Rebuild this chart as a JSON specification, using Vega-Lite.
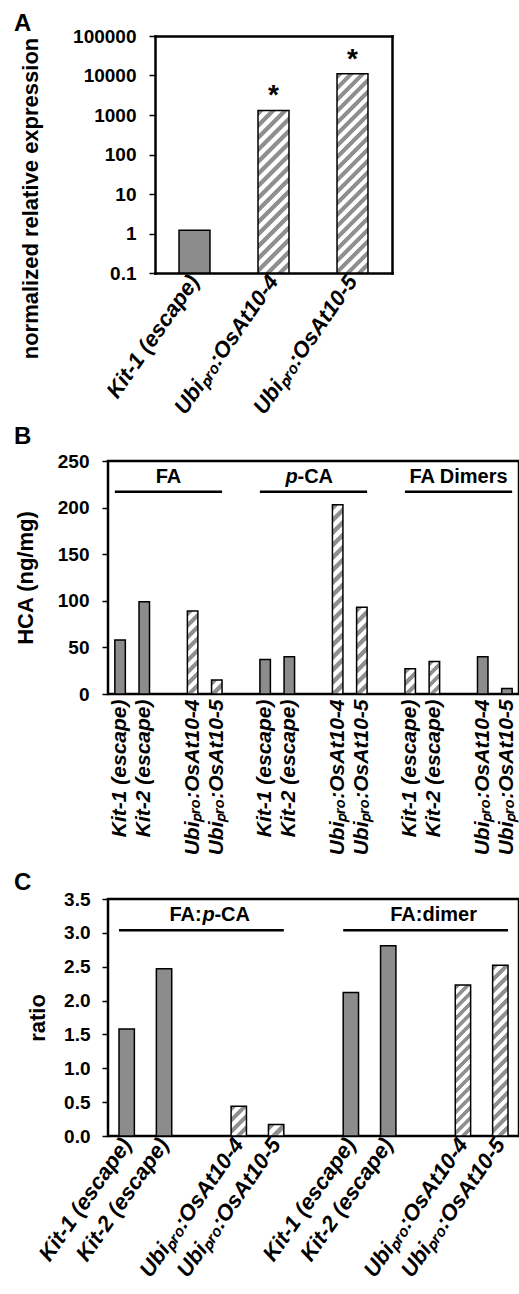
{
  "$schema": "https://vega.github.io/schema/vega-lite/v6.json",
  "background": "white",
  "padding": {"left": 12, "top": 12, "right": 0, "bottom": 0},
  "columns": 1,
  "align": "none",
  "spacing": 5,
  "config": {
    "font": "Liberation Sans",
    "view": {"stroke": "#000", "strokeWidth": 2.5},
    "axis": {"grid": false, "domain": false, "labelFont": "Liberation Sans", "labelFontWeight": "bold", "labelColor": "#000", "labelFontSize": 19, "labelOverlap": false, "labelLimit": 400, "titleFont": "Liberation Sans", "titleFontWeight": "bold", "titleFontSize": 22, "titleColor": "#000", "tickColor": "#000", "tickWidth": 1.5, "tickSize": 6},
    "title": {"font": "Liberation Sans", "fontSize": 24, "fontWeight": "bold", "color": "#000", "anchor": "start", "frame": "group"}
  },
  "concat": [
    {
      "title": {"text": "A", "offset": -9, "dx": -94},
      "width": 284,
      "height": 237,
      "view": {"stroke": null},
      "data": {"values": [
        {"line": "Kit-1 (escape)", "expression": 1.2, "sig": ""},
        {"line": "Ubiₚᵣₒ:OsAt10-4", "expression": 1300, "sig": "*"},
        {"line": "Ubiₚᵣₒ:OsAt10-5", "expression": 11000, "sig": "*"}
      ]},
      "resolve": {"axis": {"x": "independent", "y": "independent"}},
      "layer": [
        {
          "mark": {"type": "bar", "stroke": "#000", "strokeWidth": 1.5},
          "encoding": {
            "x": {"field": "line", "type": "nominal", "sort": null,
                  "scale": {"range": [47, 284], "paddingInner": 0.608, "paddingOuter": 0.304},
                  "axis": {"title": null, "labelAngle": -55, "labelAlign": "right", "labelBaseline": "middle", "labelFontSize": 22, "labelFontStyle": "italic", "ticks": false, "tickSize": 0, "labelPadding": 4, "domain": true, "domainColor": "#000", "domainWidth": 2.5, "domainCap": "square"}},
            "y": {"field": "expression", "type": "quantitative",
                  "scale": {"type": "log", "domain": [0.1, 100000], "nice": false},
                  "axis": {"title": "normalized relative expression", "values": [0.1, 1, 10, 100, 1000, 10000, 100000], "labelExpr": "'' + datum.value", "labelPadding": 13, "titleX": -113, "titleY": 162, "offset": -47, "domain": true, "domainColor": "#000", "domainWidth": 2.5, "domainCap": "square"}},
            "y2": {"datum": 0.1},
            "fill": {"condition": [
              {"test": "datum.line === 'Ubiₚᵣₒ:OsAt10-4'", "value": {"gradient": "linear", "x1": 0, "y1": 0, "x2": 0.219, "y2": 1.149, "stops": [{"offset":0.0031,"color":"#8f8f8f"},{"offset":0.0281,"color":"#8f8f8f"},{"offset":0.0344,"color":"#fff"},{"offset":0.0594,"color":"#fff"},{"offset":0.0656,"color":"#8f8f8f"},{"offset":0.0906,"color":"#8f8f8f"},{"offset":0.0969,"color":"#fff"},{"offset":0.1219,"color":"#fff"},{"offset":0.1281,"color":"#8f8f8f"},{"offset":0.1531,"color":"#8f8f8f"},{"offset":0.1594,"color":"#fff"},{"offset":0.1844,"color":"#fff"},{"offset":0.1906,"color":"#8f8f8f"},{"offset":0.2156,"color":"#8f8f8f"},{"offset":0.2219,"color":"#fff"},{"offset":0.2469,"color":"#fff"},{"offset":0.2531,"color":"#8f8f8f"},{"offset":0.2781,"color":"#8f8f8f"},{"offset":0.2844,"color":"#fff"},{"offset":0.3094,"color":"#fff"},{"offset":0.3156,"color":"#8f8f8f"},{"offset":0.3406,"color":"#8f8f8f"},{"offset":0.3469,"color":"#fff"},{"offset":0.3719,"color":"#fff"},{"offset":0.3781,"color":"#8f8f8f"},{"offset":0.4031,"color":"#8f8f8f"},{"offset":0.4094,"color":"#fff"},{"offset":0.4344,"color":"#fff"},{"offset":0.4406,"color":"#8f8f8f"},{"offset":0.4656,"color":"#8f8f8f"},{"offset":0.4719,"color":"#fff"},{"offset":0.4969,"color":"#fff"},{"offset":0.5031,"color":"#8f8f8f"},{"offset":0.5281,"color":"#8f8f8f"},{"offset":0.5344,"color":"#fff"},{"offset":0.5594,"color":"#fff"},{"offset":0.5656,"color":"#8f8f8f"},{"offset":0.5906,"color":"#8f8f8f"},{"offset":0.5969,"color":"#fff"},{"offset":0.6219,"color":"#fff"},{"offset":0.6281,"color":"#8f8f8f"},{"offset":0.6531,"color":"#8f8f8f"},{"offset":0.6594,"color":"#fff"},{"offset":0.6844,"color":"#fff"},{"offset":0.6906,"color":"#8f8f8f"},{"offset":0.7156,"color":"#8f8f8f"},{"offset":0.7219,"color":"#fff"},{"offset":0.7469,"color":"#fff"},{"offset":0.7531,"color":"#8f8f8f"},{"offset":0.7781,"color":"#8f8f8f"},{"offset":0.7844,"color":"#fff"},{"offset":0.8094,"color":"#fff"},{"offset":0.8156,"color":"#8f8f8f"},{"offset":0.8406,"color":"#8f8f8f"},{"offset":0.8469,"color":"#fff"},{"offset":0.8719,"color":"#fff"},{"offset":0.8781,"color":"#8f8f8f"},{"offset":0.9031,"color":"#8f8f8f"},{"offset":0.9094,"color":"#fff"},{"offset":0.9344,"color":"#fff"},{"offset":0.9406,"color":"#8f8f8f"},{"offset":0.9656,"color":"#8f8f8f"},{"offset":0.9719,"color":"#fff"},{"offset":0.9969,"color":"#fff"}]}},
              {"test": "datum.line === 'Ubiₚᵣₒ:OsAt10-5'", "value": {"gradient": "linear", "x1": 0, "y1": 0, "x2": 0.176, "y2": 1.128, "stops": [{"offset":0.0025,"color":"#8f8f8f"},{"offset":0.0225,"color":"#8f8f8f"},{"offset":0.0275,"color":"#fff"},{"offset":0.0475,"color":"#fff"},{"offset":0.0525,"color":"#8f8f8f"},{"offset":0.0725,"color":"#8f8f8f"},{"offset":0.0775,"color":"#fff"},{"offset":0.0975,"color":"#fff"},{"offset":0.1025,"color":"#8f8f8f"},{"offset":0.1225,"color":"#8f8f8f"},{"offset":0.1275,"color":"#fff"},{"offset":0.1475,"color":"#fff"},{"offset":0.1525,"color":"#8f8f8f"},{"offset":0.1725,"color":"#8f8f8f"},{"offset":0.1775,"color":"#fff"},{"offset":0.1975,"color":"#fff"},{"offset":0.2025,"color":"#8f8f8f"},{"offset":0.2225,"color":"#8f8f8f"},{"offset":0.2275,"color":"#fff"},{"offset":0.2475,"color":"#fff"},{"offset":0.2525,"color":"#8f8f8f"},{"offset":0.2725,"color":"#8f8f8f"},{"offset":0.2775,"color":"#fff"},{"offset":0.2975,"color":"#fff"},{"offset":0.3025,"color":"#8f8f8f"},{"offset":0.3225,"color":"#8f8f8f"},{"offset":0.3275,"color":"#fff"},{"offset":0.3475,"color":"#fff"},{"offset":0.3525,"color":"#8f8f8f"},{"offset":0.3725,"color":"#8f8f8f"},{"offset":0.3775,"color":"#fff"},{"offset":0.3975,"color":"#fff"},{"offset":0.4025,"color":"#8f8f8f"},{"offset":0.4225,"color":"#8f8f8f"},{"offset":0.4275,"color":"#fff"},{"offset":0.4475,"color":"#fff"},{"offset":0.4525,"color":"#8f8f8f"},{"offset":0.4725,"color":"#8f8f8f"},{"offset":0.4775,"color":"#fff"},{"offset":0.4975,"color":"#fff"},{"offset":0.5025,"color":"#8f8f8f"},{"offset":0.5225,"color":"#8f8f8f"},{"offset":0.5275,"color":"#fff"},{"offset":0.5475,"color":"#fff"},{"offset":0.5525,"color":"#8f8f8f"},{"offset":0.5725,"color":"#8f8f8f"},{"offset":0.5775,"color":"#fff"},{"offset":0.5975,"color":"#fff"},{"offset":0.6025,"color":"#8f8f8f"},{"offset":0.6225,"color":"#8f8f8f"},{"offset":0.6275,"color":"#fff"},{"offset":0.6475,"color":"#fff"},{"offset":0.6525,"color":"#8f8f8f"},{"offset":0.6725,"color":"#8f8f8f"},{"offset":0.6775,"color":"#fff"},{"offset":0.6975,"color":"#fff"},{"offset":0.7025,"color":"#8f8f8f"},{"offset":0.7225,"color":"#8f8f8f"},{"offset":0.7275,"color":"#fff"},{"offset":0.7475,"color":"#fff"},{"offset":0.7525,"color":"#8f8f8f"},{"offset":0.7725,"color":"#8f8f8f"},{"offset":0.7775,"color":"#fff"},{"offset":0.7975,"color":"#fff"},{"offset":0.8025,"color":"#8f8f8f"},{"offset":0.8225,"color":"#8f8f8f"},{"offset":0.8275,"color":"#fff"},{"offset":0.8475,"color":"#fff"},{"offset":0.8525,"color":"#8f8f8f"},{"offset":0.8725,"color":"#8f8f8f"},{"offset":0.8775,"color":"#fff"},{"offset":0.8975,"color":"#fff"},{"offset":0.9025,"color":"#8f8f8f"},{"offset":0.9225,"color":"#8f8f8f"},{"offset":0.9275,"color":"#fff"},{"offset":0.9475,"color":"#fff"},{"offset":0.9525,"color":"#8f8f8f"},{"offset":0.9725,"color":"#8f8f8f"},{"offset":0.9775,"color":"#fff"},{"offset":0.9975,"color":"#fff"}]}}
            ], "value": "#8c8c8c"}
          }
        },
        {
          "mark": {"type": "text", "fontSize": 28, "fontWeight": "bold", "baseline": "alphabetic", "dy": -6, "color": "#000"},
          "encoding": {
            "x": {"field": "line", "type": "nominal", "sort": null,
                  "scale": {"range": [47, 284], "paddingInner": 0.608, "paddingOuter": 0.304},
                  "axis": {"orient": "top", "title": null, "labels": false, "ticks": false, "domain": true, "domainColor": "#000", "domainWidth": 2.5, "domainCap": "square"}},
            "y": {"field": "expression", "type": "quantitative",
                  "scale": {"type": "log", "domain": [0.1, 100000], "nice": false},
                  "axis": {"orient": "right", "title": null, "labels": false, "ticks": false, "domain": true, "domainColor": "#000", "domainWidth": 2.5, "domainCap": "square"}},
            "text": {"field": "sig"}
          }
        }
      ]
    },
    {
      "title": {"text": "B", "offset": 3, "dx": -94},
      "width": 411,
      "height": 233,
      "layer": [
        {
          "data": {"values": [
            {"id": "FA|Kit-1 (escape)", "hca": 58},
            {"id": "FA|Kit-2 (escape)", "hca": 99},
            {"id": "FA|Ubiₚᵣₒ:OsAt10-4", "hca": 89},
            {"id": "FA|Ubiₚᵣₒ:OsAt10-5", "hca": 15},
            {"id": "p-CA|Kit-1 (escape)", "hca": 37},
            {"id": "p-CA|Kit-2 (escape)", "hca": 40},
            {"id": "p-CA|Ubiₚᵣₒ:OsAt10-4", "hca": 203},
            {"id": "p-CA|Ubiₚᵣₒ:OsAt10-5", "hca": 93},
            {"id": "FA Dimers|Kit-1 (escape)", "hca": 27},
            {"id": "FA Dimers|Kit-2 (escape)", "hca": 35},
            {"id": "FA Dimers|Ubiₚᵣₒ:OsAt10-4", "hca": 40},
            {"id": "FA Dimers|Ubiₚᵣₒ:OsAt10-5", "hca": 6}
          ]},
          "mark": {"type": "bar", "stroke": "#000", "strokeWidth": 1.5},
          "encoding": {
            "x": {"field": "id", "type": "nominal",
                  "scale": {"domain": ["FA|Kit-1 (escape)", "FA|Kit-2 (escape)", "gap1|", "FA|Ubiₚᵣₒ:OsAt10-4", "FA|Ubiₚᵣₒ:OsAt10-5", "gap2|", "p-CA|Kit-1 (escape)", "p-CA|Kit-2 (escape)", "gap3|", "p-CA|Ubiₚᵣₒ:OsAt10-4", "p-CA|Ubiₚᵣₒ:OsAt10-5", "gap4|", "FA Dimers|Kit-1 (escape)", "FA Dimers|Kit-2 (escape)", "gap5|", "FA Dimers|Ubiₚᵣₒ:OsAt10-4", "FA Dimers|Ubiₚᵣₒ:OsAt10-5"], "paddingInner": 0.566, "paddingOuter": 0.283},
                  "axis": {"title": " ", "titleFontSize": 7, "titlePadding": 0, "labelExpr": "split(datum.value, '|')[1]", "labelAngle": -90, "labelAlign": "right", "labelBaseline": "middle", "labelFontSize": 21, "labelFontStyle": "italic", "ticks": false, "tickSize": 0, "labelPadding": 5}},
            "y": {"field": "hca", "type": "quantitative",
                  "scale": {"domain": [0, 250], "nice": false},
                  "axis": {"title": "HCA (ng/mg)", "values": [0, 50, 100, 150, 200, 250], "labelPadding": 13, "titlePadding": 20}},
            "fill": {"condition": [
              {"test": "datum.id === 'FA|Ubiₚᵣₒ:OsAt10-4'", "value": {"gradient": "linear", "x1": 0, "y1": 0, "x2": 0.1405, "y2": 1.109, "stops": [{"offset":0.0063,"color":"#8f8f8f"},{"offset":0.0563,"color":"#8f8f8f"},{"offset":0.0688,"color":"#fff"},{"offset":0.1188,"color":"#fff"},{"offset":0.1313,"color":"#8f8f8f"},{"offset":0.1813,"color":"#8f8f8f"},{"offset":0.1938,"color":"#fff"},{"offset":0.2438,"color":"#fff"},{"offset":0.2563,"color":"#8f8f8f"},{"offset":0.3063,"color":"#8f8f8f"},{"offset":0.3188,"color":"#fff"},{"offset":0.3688,"color":"#fff"},{"offset":0.3813,"color":"#8f8f8f"},{"offset":0.4313,"color":"#8f8f8f"},{"offset":0.4438,"color":"#fff"},{"offset":0.4938,"color":"#fff"},{"offset":0.5063,"color":"#8f8f8f"},{"offset":0.5563,"color":"#8f8f8f"},{"offset":0.5688,"color":"#fff"},{"offset":0.6188,"color":"#fff"},{"offset":0.6313,"color":"#8f8f8f"},{"offset":0.6813,"color":"#8f8f8f"},{"offset":0.6938,"color":"#fff"},{"offset":0.7438,"color":"#fff"},{"offset":0.7563,"color":"#8f8f8f"},{"offset":0.8063,"color":"#8f8f8f"},{"offset":0.8188,"color":"#fff"},{"offset":0.8688,"color":"#fff"},{"offset":0.8813,"color":"#8f8f8f"},{"offset":0.9313,"color":"#8f8f8f"},{"offset":0.9438,"color":"#fff"},{"offset":0.9938,"color":"#fff"}]}},
              {"test": "datum.id === 'FA|Ubiₚᵣₒ:OsAt10-5'", "value": {"gradient": "linear", "x1": 0, "y1": 0, "x2": 0.84, "y2": 1.12, "stops": [{"offset":0.025,"color":"#8f8f8f"},{"offset":0.225,"color":"#8f8f8f"},{"offset":0.275,"color":"#fff"},{"offset":0.475,"color":"#fff"},{"offset":0.525,"color":"#8f8f8f"},{"offset":0.725,"color":"#8f8f8f"},{"offset":0.775,"color":"#fff"},{"offset":0.975,"color":"#fff"}]}},
              {"test": "datum.id === 'p-CA|Ubiₚᵣₒ:OsAt10-4'", "value": {"gradient": "linear", "x1": 0, "y1": 0, "x2": 0.0584, "y2": 1.052, "stops": [{"offset":0.0031,"color":"#8f8f8f"},{"offset":0.0281,"color":"#8f8f8f"},{"offset":0.0344,"color":"#fff"},{"offset":0.0594,"color":"#fff"},{"offset":0.0656,"color":"#8f8f8f"},{"offset":0.0906,"color":"#8f8f8f"},{"offset":0.0969,"color":"#fff"},{"offset":0.1219,"color":"#fff"},{"offset":0.1281,"color":"#8f8f8f"},{"offset":0.1531,"color":"#8f8f8f"},{"offset":0.1594,"color":"#fff"},{"offset":0.1844,"color":"#fff"},{"offset":0.1906,"color":"#8f8f8f"},{"offset":0.2156,"color":"#8f8f8f"},{"offset":0.2219,"color":"#fff"},{"offset":0.2469,"color":"#fff"},{"offset":0.2531,"color":"#8f8f8f"},{"offset":0.2781,"color":"#8f8f8f"},{"offset":0.2844,"color":"#fff"},{"offset":0.3094,"color":"#fff"},{"offset":0.3156,"color":"#8f8f8f"},{"offset":0.3406,"color":"#8f8f8f"},{"offset":0.3469,"color":"#fff"},{"offset":0.3719,"color":"#fff"},{"offset":0.3781,"color":"#8f8f8f"},{"offset":0.4031,"color":"#8f8f8f"},{"offset":0.4094,"color":"#fff"},{"offset":0.4344,"color":"#fff"},{"offset":0.4406,"color":"#8f8f8f"},{"offset":0.4656,"color":"#8f8f8f"},{"offset":0.4719,"color":"#fff"},{"offset":0.4969,"color":"#fff"},{"offset":0.5031,"color":"#8f8f8f"},{"offset":0.5281,"color":"#8f8f8f"},{"offset":0.5344,"color":"#fff"},{"offset":0.5594,"color":"#fff"},{"offset":0.5656,"color":"#8f8f8f"},{"offset":0.5906,"color":"#8f8f8f"},{"offset":0.5969,"color":"#fff"},{"offset":0.6219,"color":"#fff"},{"offset":0.6281,"color":"#8f8f8f"},{"offset":0.6531,"color":"#8f8f8f"},{"offset":0.6594,"color":"#fff"},{"offset":0.6844,"color":"#fff"},{"offset":0.6906,"color":"#8f8f8f"},{"offset":0.7156,"color":"#8f8f8f"},{"offset":0.7219,"color":"#fff"},{"offset":0.7469,"color":"#fff"},{"offset":0.7531,"color":"#8f8f8f"},{"offset":0.7781,"color":"#8f8f8f"},{"offset":0.7844,"color":"#fff"},{"offset":0.8094,"color":"#fff"},{"offset":0.8156,"color":"#8f8f8f"},{"offset":0.8406,"color":"#8f8f8f"},{"offset":0.8469,"color":"#fff"},{"offset":0.8719,"color":"#fff"},{"offset":0.8781,"color":"#8f8f8f"},{"offset":0.9031,"color":"#8f8f8f"},{"offset":0.9094,"color":"#fff"},{"offset":0.9344,"color":"#fff"},{"offset":0.9406,"color":"#8f8f8f"},{"offset":0.9656,"color":"#8f8f8f"},{"offset":0.9719,"color":"#fff"},{"offset":0.9969,"color":"#fff"}]}},
              {"test": "datum.id === 'p-CA|Ubiₚᵣₒ:OsAt10-5'", "value": {"gradient": "linear", "x1": 0, "y1": 0, "x2": 0.1338, "y2": 1.105, "stops": [{"offset":0.0063,"color":"#8f8f8f"},{"offset":0.0563,"color":"#8f8f8f"},{"offset":0.0688,"color":"#fff"},{"offset":0.1188,"color":"#fff"},{"offset":0.1313,"color":"#8f8f8f"},{"offset":0.1813,"color":"#8f8f8f"},{"offset":0.1938,"color":"#fff"},{"offset":0.2438,"color":"#fff"},{"offset":0.2563,"color":"#8f8f8f"},{"offset":0.3063,"color":"#8f8f8f"},{"offset":0.3188,"color":"#fff"},{"offset":0.3688,"color":"#fff"},{"offset":0.3813,"color":"#8f8f8f"},{"offset":0.4313,"color":"#8f8f8f"},{"offset":0.4438,"color":"#fff"},{"offset":0.4938,"color":"#fff"},{"offset":0.5063,"color":"#8f8f8f"},{"offset":0.5563,"color":"#8f8f8f"},{"offset":0.5688,"color":"#fff"},{"offset":0.6188,"color":"#fff"},{"offset":0.6313,"color":"#8f8f8f"},{"offset":0.6813,"color":"#8f8f8f"},{"offset":0.6938,"color":"#fff"},{"offset":0.7438,"color":"#fff"},{"offset":0.7563,"color":"#8f8f8f"},{"offset":0.8063,"color":"#8f8f8f"},{"offset":0.8188,"color":"#fff"},{"offset":0.8688,"color":"#fff"},{"offset":0.8813,"color":"#8f8f8f"},{"offset":0.9313,"color":"#8f8f8f"},{"offset":0.9438,"color":"#fff"},{"offset":0.9938,"color":"#fff"}]}},
              {"test": "datum.id === 'FA Dimers|Kit-1 (escape)'", "value": {"gradient": "linear", "x1": 0, "y1": 0, "x2": 0.503, "y2": 1.207, "stops": [{"offset":0.0167,"color":"#8f8f8f"},{"offset":0.15,"color":"#8f8f8f"},{"offset":0.1833,"color":"#fff"},{"offset":0.3167,"color":"#fff"},{"offset":0.35,"color":"#8f8f8f"},{"offset":0.4833,"color":"#8f8f8f"},{"offset":0.5167,"color":"#fff"},{"offset":0.65,"color":"#fff"},{"offset":0.6833,"color":"#8f8f8f"},{"offset":0.8167,"color":"#8f8f8f"},{"offset":0.85,"color":"#fff"},{"offset":0.9833,"color":"#fff"}]}},
              {"test": "datum.id === 'FA Dimers|Kit-2 (escape)'", "value": {"gradient": "linear", "x1": 0, "y1": 0, "x2": 0.386, "y2": 1.198, "stops": [{"offset":0.0125,"color":"#8f8f8f"},{"offset":0.1125,"color":"#8f8f8f"},{"offset":0.1375,"color":"#fff"},{"offset":0.2375,"color":"#fff"},{"offset":0.2625,"color":"#8f8f8f"},{"offset":0.3625,"color":"#8f8f8f"},{"offset":0.3875,"color":"#fff"},{"offset":0.4875,"color":"#fff"},{"offset":0.5125,"color":"#8f8f8f"},{"offset":0.6125,"color":"#8f8f8f"},{"offset":0.6375,"color":"#fff"},{"offset":0.7375,"color":"#fff"},{"offset":0.7625,"color":"#8f8f8f"},{"offset":0.8625,"color":"#8f8f8f"},{"offset":0.8875,"color":"#fff"},{"offset":0.9875,"color":"#fff"}]}}
            ], "value": "#8c8c8c"}
          }
        },
        {
          "data": {"values": [
            {"group": "FA", "from": "FA|Kit-1 (escape)", "to": "FA|Ubiₚᵣₒ:OsAt10-5", "mid": "gap1|"},
            {"group": "p-CA", "from": "p-CA|Kit-1 (escape)", "to": "p-CA|Ubiₚᵣₒ:OsAt10-5", "mid": "gap3|"},
            {"group": "FA Dimers", "from": "FA Dimers|Kit-1 (escape)", "to": "FA Dimers|Ubiₚᵣₒ:OsAt10-5", "mid": "gap5|"}
          ]},
          "layer": [
            {
              "mark": {"type": "rule", "stroke": "#000", "strokeWidth": 2.5},
              "encoding": {
                "x": {"field": "from", "type": "nominal", "bandPosition": 0,
                      "scale": {"domain": ["FA|Kit-1 (escape)", "FA|Kit-2 (escape)", "gap1|", "FA|Ubiₚᵣₒ:OsAt10-4", "FA|Ubiₚᵣₒ:OsAt10-5", "gap2|", "p-CA|Kit-1 (escape)", "p-CA|Kit-2 (escape)", "gap3|", "p-CA|Ubiₚᵣₒ:OsAt10-4", "p-CA|Ubiₚᵣₒ:OsAt10-5", "gap4|", "FA Dimers|Kit-1 (escape)", "FA Dimers|Kit-2 (escape)", "gap5|", "FA Dimers|Ubiₚᵣₒ:OsAt10-4", "FA Dimers|Ubiₚᵣₒ:OsAt10-5"], "paddingInner": 0.566, "paddingOuter": 0.283},
                      "axis": {"title": " ", "titleFontSize": 7, "titlePadding": 0, "labelExpr": "split(datum.value, '|')[1]", "labelAngle": -90, "labelAlign": "right", "labelBaseline": "middle", "labelFontSize": 21, "labelFontStyle": "italic", "ticks": false, "tickSize": 0, "labelPadding": 5}},
                "x2": {"field": "to", "bandPosition": 1},
                "y": {"datum": 217, "type": "quantitative",
                      "axis": {"title": "HCA (ng/mg)", "values": [0, 50, 100, 150, 200, 250], "labelPadding": 13, "titlePadding": 20}}
              }
            },
            {
              "transform": [{"filter": "datum.group !== 'p-CA'"}],
              "mark": {"type": "text", "fontSize": 20, "fontWeight": "bold", "color": "#000"},
              "encoding": {
                "x": {"field": "mid", "type": "nominal",
                      "scale": {"domain": ["FA|Kit-1 (escape)", "FA|Kit-2 (escape)", "gap1|", "FA|Ubiₚᵣₒ:OsAt10-4", "FA|Ubiₚᵣₒ:OsAt10-5", "gap2|", "p-CA|Kit-1 (escape)", "p-CA|Kit-2 (escape)", "gap3|", "p-CA|Ubiₚᵣₒ:OsAt10-4", "p-CA|Ubiₚᵣₒ:OsAt10-5", "gap4|", "FA Dimers|Kit-1 (escape)", "FA Dimers|Kit-2 (escape)", "gap5|", "FA Dimers|Ubiₚᵣₒ:OsAt10-4", "FA Dimers|Ubiₚᵣₒ:OsAt10-5"], "paddingInner": 0.566, "paddingOuter": 0.283},
                      "axis": {"title": " ", "titleFontSize": 7, "titlePadding": 0, "labelExpr": "split(datum.value, '|')[1]", "labelAngle": -90, "labelAlign": "right", "labelBaseline": "middle", "labelFontSize": 21, "labelFontStyle": "italic", "ticks": false, "tickSize": 0, "labelPadding": 5}},
                "y": {"datum": 233, "type": "quantitative",
                      "axis": {"title": "HCA (ng/mg)", "values": [0, 50, 100, 150, 200, 250], "labelPadding": 13, "titlePadding": 20}},
                "text": {"field": "group"}
              }
            },
            {
              "transform": [{"filter": "datum.group === 'p-CA'"}],
              "mark": {"type": "text", "fontSize": 20, "fontWeight": "bold", "fontStyle": "italic", "align": "left", "dx": -28, "color": "#000", "text": "p"},
              "encoding": {
                "x": {"field": "mid", "type": "nominal",
                      "scale": {"domain": ["FA|Kit-1 (escape)", "FA|Kit-2 (escape)", "gap1|", "FA|Ubiₚᵣₒ:OsAt10-4", "FA|Ubiₚᵣₒ:OsAt10-5", "gap2|", "p-CA|Kit-1 (escape)", "p-CA|Kit-2 (escape)", "gap3|", "p-CA|Ubiₚᵣₒ:OsAt10-4", "p-CA|Ubiₚᵣₒ:OsAt10-5", "gap4|", "FA Dimers|Kit-1 (escape)", "FA Dimers|Kit-2 (escape)", "gap5|", "FA Dimers|Ubiₚᵣₒ:OsAt10-4", "FA Dimers|Ubiₚᵣₒ:OsAt10-5"], "paddingInner": 0.566, "paddingOuter": 0.283},
                      "axis": {"title": " ", "titleFontSize": 7, "titlePadding": 0, "labelExpr": "split(datum.value, '|')[1]", "labelAngle": -90, "labelAlign": "right", "labelBaseline": "middle", "labelFontSize": 21, "labelFontStyle": "italic", "ticks": false, "tickSize": 0, "labelPadding": 5}},
                "y": {"datum": 233, "type": "quantitative",
                      "axis": {"title": "HCA (ng/mg)", "values": [0, 50, 100, 150, 200, 250], "labelPadding": 13, "titlePadding": 20}}
              }
            },
            {
              "transform": [{"filter": "datum.group === 'p-CA'"}],
              "mark": {"type": "text", "fontSize": 20, "fontWeight": "bold", "align": "left", "dx": -16, "color": "#000", "text": "-CA"},
              "encoding": {
                "x": {"field": "mid", "type": "nominal",
                      "scale": {"domain": ["FA|Kit-1 (escape)", "FA|Kit-2 (escape)", "gap1|", "FA|Ubiₚᵣₒ:OsAt10-4", "FA|Ubiₚᵣₒ:OsAt10-5", "gap2|", "p-CA|Kit-1 (escape)", "p-CA|Kit-2 (escape)", "gap3|", "p-CA|Ubiₚᵣₒ:OsAt10-4", "p-CA|Ubiₚᵣₒ:OsAt10-5", "gap4|", "FA Dimers|Kit-1 (escape)", "FA Dimers|Kit-2 (escape)", "gap5|", "FA Dimers|Ubiₚᵣₒ:OsAt10-4", "FA Dimers|Ubiₚᵣₒ:OsAt10-5"], "paddingInner": 0.566, "paddingOuter": 0.283},
                      "axis": {"title": " ", "titleFontSize": 7, "titlePadding": 0, "labelExpr": "split(datum.value, '|')[1]", "labelAngle": -90, "labelAlign": "right", "labelBaseline": "middle", "labelFontSize": 21, "labelFontStyle": "italic", "ticks": false, "tickSize": 0, "labelPadding": 5}},
                "y": {"datum": 233, "type": "quantitative",
                      "axis": {"title": "HCA (ng/mg)", "values": [0, 50, 100, 150, 200, 250], "labelPadding": 13, "titlePadding": 20}}
              }
            }
          ]
        }
      ]
    },
    {
      "title": {"text": "C", "offset": -5, "dx": -94},
      "width": 411,
      "height": 237,
      "layer": [
        {
          "data": {"values": [
            {"id": "FA:p-CA|Kit-1 (escape)", "ratio": 1.58},
            {"id": "FA:p-CA|Kit-2 (escape)", "ratio": 2.47},
            {"id": "FA:p-CA|Ubiₚᵣₒ:OsAt10-4", "ratio": 0.44},
            {"id": "FA:p-CA|Ubiₚᵣₒ:OsAt10-5", "ratio": 0.17},
            {"id": "FA:dimer|Kit-1 (escape)", "ratio": 2.12},
            {"id": "FA:dimer|Kit-2 (escape)", "ratio": 2.81},
            {"id": "FA:dimer|Ubiₚᵣₒ:OsAt10-4", "ratio": 2.23},
            {"id": "FA:dimer|Ubiₚᵣₒ:OsAt10-5", "ratio": 2.52}
          ]},
          "mark": {"type": "bar", "stroke": "#000", "strokeWidth": 1.5},
          "encoding": {
            "x": {"field": "id", "type": "nominal",
                  "scale": {"domain": ["FA:p-CA|Kit-1 (escape)", "FA:p-CA|Kit-2 (escape)", "gap1|", "FA:p-CA|Ubiₚᵣₒ:OsAt10-4", "FA:p-CA|Ubiₚᵣₒ:OsAt10-5", "gap2|", "FA:dimer|Kit-1 (escape)", "FA:dimer|Kit-2 (escape)", "gap3|", "FA:dimer|Ubiₚᵣₒ:OsAt10-4", "FA:dimer|Ubiₚᵣₒ:OsAt10-5"], "paddingInner": 0.589, "paddingOuter": 0.2945},
                  "axis": {"title": null, "labelExpr": "split(datum.value, '|')[1]", "labelAngle": -55, "labelAlign": "right", "labelBaseline": "middle", "labelFontSize": 22, "labelFontStyle": "italic", "ticks": false, "tickSize": 0, "labelPadding": 4}},
            "y": {"field": "ratio", "type": "quantitative",
                  "scale": {"domain": [0, 3.5], "nice": false},
                  "axis": {"title": "ratio", "values": [0, 0.5, 1, 1.5, 2, 2.5, 3, 3.5], "format": ".1f", "labelPadding": 12, "titlePadding": 14}},
            "fill": {"condition": [
              {"test": "datum.id === 'FA:p-CA|Ubiₚᵣₒ:OsAt10-4'", "value": {"gradient": "linear", "x1": 0, "y1": 0, "x2": 0.622, "y2": 1.196, "stops": [{"offset":0.0125,"color":"#8f8f8f"},{"offset":0.1125,"color":"#8f8f8f"},{"offset":0.1375,"color":"#fff"},{"offset":0.2375,"color":"#fff"},{"offset":0.2625,"color":"#8f8f8f"},{"offset":0.3625,"color":"#8f8f8f"},{"offset":0.3875,"color":"#fff"},{"offset":0.4875,"color":"#fff"},{"offset":0.5125,"color":"#8f8f8f"},{"offset":0.6125,"color":"#8f8f8f"},{"offset":0.6375,"color":"#fff"},{"offset":0.7375,"color":"#fff"},{"offset":0.7625,"color":"#8f8f8f"},{"offset":0.8625,"color":"#8f8f8f"},{"offset":0.8875,"color":"#fff"},{"offset":0.9875,"color":"#fff"}]}},
              {"test": "datum.id === 'FA:p-CA|Ubiₚᵣₒ:OsAt10-5'", "value": {"gradient": "linear", "x1": 0, "y1": 0, "x2": 1.123, "y2": 0.834, "stops": [{"offset":0.025,"color":"#8f8f8f"},{"offset":0.225,"color":"#8f8f8f"},{"offset":0.275,"color":"#fff"},{"offset":0.475,"color":"#fff"},{"offset":0.525,"color":"#8f8f8f"},{"offset":0.725,"color":"#8f8f8f"},{"offset":0.775,"color":"#fff"},{"offset":0.975,"color":"#fff"}]}},
              {"test": "datum.id === 'FA:dimer|Ubiₚᵣₒ:OsAt10-4'", "value": {"gradient": "linear", "x1": 0, "y1": 0, "x2": 0.112, "y2": 1.091, "stops": [{"offset":0.0031,"color":"#8f8f8f"},{"offset":0.0281,"color":"#8f8f8f"},{"offset":0.0344,"color":"#fff"},{"offset":0.0594,"color":"#fff"},{"offset":0.0656,"color":"#8f8f8f"},{"offset":0.0906,"color":"#8f8f8f"},{"offset":0.0969,"color":"#fff"},{"offset":0.1219,"color":"#fff"},{"offset":0.1281,"color":"#8f8f8f"},{"offset":0.1531,"color":"#8f8f8f"},{"offset":0.1594,"color":"#fff"},{"offset":0.1844,"color":"#fff"},{"offset":0.1906,"color":"#8f8f8f"},{"offset":0.2156,"color":"#8f8f8f"},{"offset":0.2219,"color":"#fff"},{"offset":0.2469,"color":"#fff"},{"offset":0.2531,"color":"#8f8f8f"},{"offset":0.2781,"color":"#8f8f8f"},{"offset":0.2844,"color":"#fff"},{"offset":0.3094,"color":"#fff"},{"offset":0.3156,"color":"#8f8f8f"},{"offset":0.3406,"color":"#8f8f8f"},{"offset":0.3469,"color":"#fff"},{"offset":0.3719,"color":"#fff"},{"offset":0.3781,"color":"#8f8f8f"},{"offset":0.4031,"color":"#8f8f8f"},{"offset":0.4094,"color":"#fff"},{"offset":0.4344,"color":"#fff"},{"offset":0.4406,"color":"#8f8f8f"},{"offset":0.4656,"color":"#8f8f8f"},{"offset":0.4719,"color":"#fff"},{"offset":0.4969,"color":"#fff"},{"offset":0.5031,"color":"#8f8f8f"},{"offset":0.5281,"color":"#8f8f8f"},{"offset":0.5344,"color":"#fff"},{"offset":0.5594,"color":"#fff"},{"offset":0.5656,"color":"#8f8f8f"},{"offset":0.5906,"color":"#8f8f8f"},{"offset":0.5969,"color":"#fff"},{"offset":0.6219,"color":"#fff"},{"offset":0.6281,"color":"#8f8f8f"},{"offset":0.6531,"color":"#8f8f8f"},{"offset":0.6594,"color":"#fff"},{"offset":0.6844,"color":"#fff"},{"offset":0.6906,"color":"#8f8f8f"},{"offset":0.7156,"color":"#8f8f8f"},{"offset":0.7219,"color":"#fff"},{"offset":0.7469,"color":"#fff"},{"offset":0.7531,"color":"#8f8f8f"},{"offset":0.7781,"color":"#8f8f8f"},{"offset":0.7844,"color":"#fff"},{"offset":0.8094,"color":"#fff"},{"offset":0.8156,"color":"#8f8f8f"},{"offset":0.8406,"color":"#8f8f8f"},{"offset":0.8469,"color":"#fff"},{"offset":0.8719,"color":"#fff"},{"offset":0.8781,"color":"#8f8f8f"},{"offset":0.9031,"color":"#8f8f8f"},{"offset":0.9094,"color":"#fff"},{"offset":0.9344,"color":"#fff"},{"offset":0.9406,"color":"#8f8f8f"},{"offset":0.9656,"color":"#8f8f8f"},{"offset":0.9719,"color":"#fff"},{"offset":0.9969,"color":"#fff"}]}},
              {"test": "datum.id === 'FA:dimer|Ubiₚᵣₒ:OsAt10-5'", "value": {"gradient": "linear", "x1": 0, "y1": 0, "x2": 0.0983, "y2": 1.082, "stops": [{"offset":0.0031,"color":"#8f8f8f"},{"offset":0.0281,"color":"#8f8f8f"},{"offset":0.0344,"color":"#fff"},{"offset":0.0594,"color":"#fff"},{"offset":0.0656,"color":"#8f8f8f"},{"offset":0.0906,"color":"#8f8f8f"},{"offset":0.0969,"color":"#fff"},{"offset":0.1219,"color":"#fff"},{"offset":0.1281,"color":"#8f8f8f"},{"offset":0.1531,"color":"#8f8f8f"},{"offset":0.1594,"color":"#fff"},{"offset":0.1844,"color":"#fff"},{"offset":0.1906,"color":"#8f8f8f"},{"offset":0.2156,"color":"#8f8f8f"},{"offset":0.2219,"color":"#fff"},{"offset":0.2469,"color":"#fff"},{"offset":0.2531,"color":"#8f8f8f"},{"offset":0.2781,"color":"#8f8f8f"},{"offset":0.2844,"color":"#fff"},{"offset":0.3094,"color":"#fff"},{"offset":0.3156,"color":"#8f8f8f"},{"offset":0.3406,"color":"#8f8f8f"},{"offset":0.3469,"color":"#fff"},{"offset":0.3719,"color":"#fff"},{"offset":0.3781,"color":"#8f8f8f"},{"offset":0.4031,"color":"#8f8f8f"},{"offset":0.4094,"color":"#fff"},{"offset":0.4344,"color":"#fff"},{"offset":0.4406,"color":"#8f8f8f"},{"offset":0.4656,"color":"#8f8f8f"},{"offset":0.4719,"color":"#fff"},{"offset":0.4969,"color":"#fff"},{"offset":0.5031,"color":"#8f8f8f"},{"offset":0.5281,"color":"#8f8f8f"},{"offset":0.5344,"color":"#fff"},{"offset":0.5594,"color":"#fff"},{"offset":0.5656,"color":"#8f8f8f"},{"offset":0.5906,"color":"#8f8f8f"},{"offset":0.5969,"color":"#fff"},{"offset":0.6219,"color":"#fff"},{"offset":0.6281,"color":"#8f8f8f"},{"offset":0.6531,"color":"#8f8f8f"},{"offset":0.6594,"color":"#fff"},{"offset":0.6844,"color":"#fff"},{"offset":0.6906,"color":"#8f8f8f"},{"offset":0.7156,"color":"#8f8f8f"},{"offset":0.7219,"color":"#fff"},{"offset":0.7469,"color":"#fff"},{"offset":0.7531,"color":"#8f8f8f"},{"offset":0.7781,"color":"#8f8f8f"},{"offset":0.7844,"color":"#fff"},{"offset":0.8094,"color":"#fff"},{"offset":0.8156,"color":"#8f8f8f"},{"offset":0.8406,"color":"#8f8f8f"},{"offset":0.8469,"color":"#fff"},{"offset":0.8719,"color":"#fff"},{"offset":0.8781,"color":"#8f8f8f"},{"offset":0.9031,"color":"#8f8f8f"},{"offset":0.9094,"color":"#fff"},{"offset":0.9344,"color":"#fff"},{"offset":0.9406,"color":"#8f8f8f"},{"offset":0.9656,"color":"#8f8f8f"},{"offset":0.9719,"color":"#fff"},{"offset":0.9969,"color":"#fff"}]}}
            ], "value": "#8c8c8c"}
          }
        },
        {
          "data": {"values": [
            {"group": "FA:p-CA", "from": "FA:p-CA|Kit-1 (escape)", "to": "FA:p-CA|Ubiₚᵣₒ:OsAt10-5", "mid": "gap1|"},
            {"group": "FA:dimer", "from": "FA:dimer|Kit-1 (escape)", "to": "FA:dimer|Ubiₚᵣₒ:OsAt10-5", "mid": "gap3|"}
          ]},
          "layer": [
            {
              "mark": {"type": "rule", "stroke": "#000", "strokeWidth": 2.5},
              "encoding": {
                "x": {"field": "from", "type": "nominal", "bandPosition": 0,
                      "scale": {"domain": ["FA:p-CA|Kit-1 (escape)", "FA:p-CA|Kit-2 (escape)", "gap1|", "FA:p-CA|Ubiₚᵣₒ:OsAt10-4", "FA:p-CA|Ubiₚᵣₒ:OsAt10-5", "gap2|", "FA:dimer|Kit-1 (escape)", "FA:dimer|Kit-2 (escape)", "gap3|", "FA:dimer|Ubiₚᵣₒ:OsAt10-4", "FA:dimer|Ubiₚᵣₒ:OsAt10-5"], "paddingInner": 0.589, "paddingOuter": 0.2945},
                      "axis": {"title": null, "labelExpr": "split(datum.value, '|')[1]", "labelAngle": -55, "labelAlign": "right", "labelBaseline": "middle", "labelFontSize": 22, "labelFontStyle": "italic", "ticks": false, "tickSize": 0, "labelPadding": 4}},
                "x2": {"field": "to", "bandPosition": 1},
                "y": {"datum": 3.04, "type": "quantitative",
                      "axis": {"title": "ratio", "values": [0, 0.5, 1, 1.5, 2, 2.5, 3, 3.5], "format": ".1f", "labelPadding": 12, "titlePadding": 14}}
              }
            },
            {
              "transform": [{"filter": "datum.group === 'FA:dimer'"}],
              "mark": {"type": "text", "fontSize": 20, "fontWeight": "bold", "dx": 8, "color": "#000"},
              "encoding": {
                "x": {"field": "mid", "type": "nominal",
                      "scale": {"domain": ["FA:p-CA|Kit-1 (escape)", "FA:p-CA|Kit-2 (escape)", "gap1|", "FA:p-CA|Ubiₚᵣₒ:OsAt10-4", "FA:p-CA|Ubiₚᵣₒ:OsAt10-5", "gap2|", "FA:dimer|Kit-1 (escape)", "FA:dimer|Kit-2 (escape)", "gap3|", "FA:dimer|Ubiₚᵣₒ:OsAt10-4", "FA:dimer|Ubiₚᵣₒ:OsAt10-5"], "paddingInner": 0.589, "paddingOuter": 0.2945},
                      "axis": {"title": null, "labelExpr": "split(datum.value, '|')[1]", "labelAngle": -55, "labelAlign": "right", "labelBaseline": "middle", "labelFontSize": 22, "labelFontStyle": "italic", "ticks": false, "tickSize": 0, "labelPadding": 4}},
                "y": {"datum": 3.26, "type": "quantitative",
                      "axis": {"title": "ratio", "values": [0, 0.5, 1, 1.5, 2, 2.5, 3, 3.5], "format": ".1f", "labelPadding": 12, "titlePadding": 14}},
                "text": {"field": "group"}
              }
            },
            {
              "transform": [{"filter": "datum.group === 'FA:p-CA'"}],
              "mark": {"type": "text", "fontSize": 20, "fontWeight": "bold", "align": "left", "dx": -32, "color": "#000", "text": "FA:"},
              "encoding": {
                "x": {"field": "mid", "type": "nominal",
                      "scale": {"domain": ["FA:p-CA|Kit-1 (escape)", "FA:p-CA|Kit-2 (escape)", "gap1|", "FA:p-CA|Ubiₚᵣₒ:OsAt10-4", "FA:p-CA|Ubiₚᵣₒ:OsAt10-5", "gap2|", "FA:dimer|Kit-1 (escape)", "FA:dimer|Kit-2 (escape)", "gap3|", "FA:dimer|Ubiₚᵣₒ:OsAt10-4", "FA:dimer|Ubiₚᵣₒ:OsAt10-5"], "paddingInner": 0.589, "paddingOuter": 0.2945},
                      "axis": {"title": null, "labelExpr": "split(datum.value, '|')[1]", "labelAngle": -55, "labelAlign": "right", "labelBaseline": "middle", "labelFontSize": 22, "labelFontStyle": "italic", "ticks": false, "tickSize": 0, "labelPadding": 4}},
                "y": {"datum": 3.26, "type": "quantitative",
                      "axis": {"title": "ratio", "values": [0, 0.5, 1, 1.5, 2, 2.5, 3, 3.5], "format": ".1f", "labelPadding": 12, "titlePadding": 14}}
              }
            },
            {
              "transform": [{"filter": "datum.group === 'FA:p-CA'"}],
              "mark": {"type": "text", "fontSize": 20, "fontWeight": "bold", "fontStyle": "italic", "align": "left", "dx": 1, "color": "#000", "text": "p"},
              "encoding": {
                "x": {"field": "mid", "type": "nominal",
                      "scale": {"domain": ["FA:p-CA|Kit-1 (escape)", "FA:p-CA|Kit-2 (escape)", "gap1|", "FA:p-CA|Ubiₚᵣₒ:OsAt10-4", "FA:p-CA|Ubiₚᵣₒ:OsAt10-5", "gap2|", "FA:dimer|Kit-1 (escape)", "FA:dimer|Kit-2 (escape)", "gap3|", "FA:dimer|Ubiₚᵣₒ:OsAt10-4", "FA:dimer|Ubiₚᵣₒ:OsAt10-5"], "paddingInner": 0.589, "paddingOuter": 0.2945},
                      "axis": {"title": null, "labelExpr": "split(datum.value, '|')[1]", "labelAngle": -55, "labelAlign": "right", "labelBaseline": "middle", "labelFontSize": 22, "labelFontStyle": "italic", "ticks": false, "tickSize": 0, "labelPadding": 4}},
                "y": {"datum": 3.26, "type": "quantitative",
                      "axis": {"title": "ratio", "values": [0, 0.5, 1, 1.5, 2, 2.5, 3, 3.5], "format": ".1f", "labelPadding": 12, "titlePadding": 14}}
              }
            },
            {
              "transform": [{"filter": "datum.group === 'FA:p-CA'"}],
              "mark": {"type": "text", "fontSize": 20, "fontWeight": "bold", "align": "left", "dx": 13, "color": "#000", "text": "-CA"},
              "encoding": {
                "x": {"field": "mid", "type": "nominal",
                      "scale": {"domain": ["FA:p-CA|Kit-1 (escape)", "FA:p-CA|Kit-2 (escape)", "gap1|", "FA:p-CA|Ubiₚᵣₒ:OsAt10-4", "FA:p-CA|Ubiₚᵣₒ:OsAt10-5", "gap2|", "FA:dimer|Kit-1 (escape)", "FA:dimer|Kit-2 (escape)", "gap3|", "FA:dimer|Ubiₚᵣₒ:OsAt10-4", "FA:dimer|Ubiₚᵣₒ:OsAt10-5"], "paddingInner": 0.589, "paddingOuter": 0.2945},
                      "axis": {"title": null, "labelExpr": "split(datum.value, '|')[1]", "labelAngle": -55, "labelAlign": "right", "labelBaseline": "middle", "labelFontSize": 22, "labelFontStyle": "italic", "ticks": false, "tickSize": 0, "labelPadding": 4}},
                "y": {"datum": 3.26, "type": "quantitative",
                      "axis": {"title": "ratio", "values": [0, 0.5, 1, 1.5, 2, 2.5, 3, 3.5], "format": ".1f", "labelPadding": 12, "titlePadding": 14}}
              }
            }
          ]
        }
      ]
    }
  ]
}
